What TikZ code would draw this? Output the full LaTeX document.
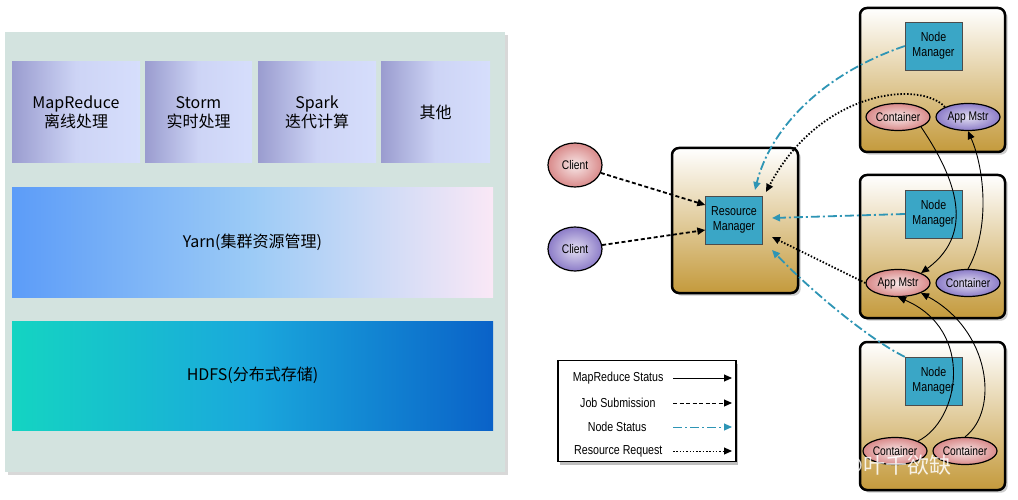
\documentclass[tikz,border=0pt]{standalone}
\usepackage{fontspec}
\setmainfont{Noto Sans CJK SC}
\newfontfamily\nar{Liberation Sans}[FakeStretch=0.82]
\usetikzlibrary{shapes.geometric,arrows.meta,shadows}
\definecolor{panel}{HTML}{D3E3DF}
\definecolor{teal}{HTML}{3AA6C6}
\definecolor{gold}{HTML}{C49A3C}
\definecolor{arr}{HTML}{2E95B5}
\definecolor{tl}{HTML}{9A9CCF}
\definecolor{tr}{HTML}{D6DEFC}
\definecolor{yl}{HTML}{5C9CF8}
\definecolor{ym}{HTML}{9CCBF6}
\definecolor{yr}{HTML}{FAE8F6}
\definecolor{hl}{HTML}{14D4C2}
\definecolor{hm}{HTML}{1AA8DC}
\definecolor{hr}{HTML}{0A62C8}
\definecolor{pk}{HTML}{D98A8A}
\definecolor{pu}{HTML}{8C7CC8}
\tikzset{
 top/.style={draw=none,left color=tl,right color=tr,middle color=tr!85!tl,align=center,font=\fontsize{16}{19}\selectfont,inner sep=0},
 box/.style={rounded corners=7pt,draw=black,line width=2.5pt,top color=white,bottom color=gold,drop shadow={opacity=.4}},
 mgr/.style={draw=black!70,fill=teal,align=center,font=\nar\fontsize{13}{15}\selectfont,minimum width=57pt,minimum height=48pt,inner sep=0},
 ell/.style={ellipse,draw=black,line width=1.2pt,font=\nar\fontsize{12.5}{13}\selectfont,minimum width=64pt,minimum height=27pt,inner sep=0},
 pink/.style={ell,inner color=white!80!pk,outer color=pk},
 purp/.style={ell,inner color=white!75!pu,outer color=pu},
 tip/.style={-{Triangle[length=8pt,width=7pt]}},
 ms/.style={tip,black,line width=.9pt},
 js/.style={tip,black,line width=1.8pt,dash pattern=on 4pt off 2.5pt},
 ns/.style={tip,arr,line width=1.8pt,dash pattern=on 9pt off 3pt on 2pt off 3pt},
 rr/.style={tip,black,line width=1.8pt,dash pattern=on 1.5pt off 1.8pt},
}
\begin{document}
\begin{tikzpicture}[x=1pt,y=-1pt]
\useasboundingbox (0,0) rectangle (1018,500);
\fill[white] (0,0) rectangle (1018,500);
% left panel
\fill[panel,drop shadow={opacity=.3}] (5,32) rectangle (505,472);
\node[top,minimum width=128pt,minimum height=101pt] (mr) at (76,112.5) {MapReduce\\离线处理};
\node[top,minimum width=107pt,minimum height=101pt] (st) at (198.5,112.5) {Storm\\实时处理};
\node[top,minimum width=118pt,minimum height=101pt] (sp) at (317,112.5) {Spark\\迭代计算};
\node[top,minimum width=109pt,minimum height=101pt] (qt) at (435.5,112.5) {其他};
\node[draw=none,left color=yl,right color=yr,middle color=ym,minimum width=481pt,minimum height=109pt,font=\fontsize{16}{19}\selectfont] (yarn) at (252.5,242.5) {Yarn(集群资源管理)};
\node[draw=none,left color=hl,right color=hr,middle color=hm,minimum width=481pt,minimum height=109pt,font=\fontsize{16}{19}\selectfont] (hdfs) at (252.5,375.5) {HDFS(分布式存储)};
% right
\node[box,minimum width=126pt,minimum height=145pt] (rmb) at (735,220.5) {};
\node[mgr] (rm) at (734,220) {Resource\\Manager};
\node[pink,minimum width=54pt,minimum height=44pt] (c1) at (575,165) {Client};
\node[purp,minimum width=54pt,minimum height=44pt] (c2) at (575,249) {Client};
\node[box,minimum width=145pt,minimum height=144pt] (n1) at (932.5,80) {};
\node[box,minimum width=145pt,minimum height=143pt] (n2) at (932.5,246.5) {};
\node[box,minimum width=145pt,minimum height=148pt] (n3) at (932.5,416) {};
\node[mgr] (nm1) at (933.5,46) {Node\\Manager};
\node[mgr] (nm2) at (933.5,214) {Node\\Manager};
\node[mgr] (nm3) at (933.5,381) {Node\\Manager};
\node[pink] (ct1) at (898,117) {Container};
\node[purp] (am1) at (968,117) {App Mstr};
\node[pink] (am2) at (898,283) {App Mstr};
\node[purp] (ct2) at (968,283) {Container};
\node[pink] (ct3) at (895,451) {Container};
\node[pink] (ct4) at (965,451) {Container};
% arrows
\draw[js] (c1) -- (rm.west|-0,205);
\draw[js] (c2) -- (rm.west|-0,230);
\draw[ns] (nm1.west) .. controls (820,75) and (770,130) .. (755,190);
\draw[rr] (am1.north west) .. controls (920,80) and (820,90) .. (766,192);
\draw[ns] (nm2.west) -- (772,218);
\draw[rr] (am2.west) -- (772,237);
\draw[ns] (nm3.north west) .. controls (870,340) and (810,290) .. (772,250);
\draw[ms] (ct1.south east) .. controls (950,170) and (980,230) .. (am2.north east);
\draw[ms] (ct2.north) .. controls (990,230) and (985,170) .. (am1.south);
\draw[ms] (ct3.north east) .. controls (960,420) and (975,330) .. (am2.south);
\draw[ms] (ct4.north) .. controls (1000,410) and (990,330) .. (am2.south east);
% legend
\node[draw=black,line width=1.5pt,fill=white,drop shadow={opacity=.5,shadow xshift=2pt,shadow yshift=-3pt},minimum width=178pt,minimum height=101pt] (lg) at (647,411) {};
\begin{scope}[font=\nar\fontsize{13}{14}\selectfont]
\node[anchor=east] (l1) at (667,378) {MapReduce Status};
\node[anchor=east] (l2) at (659,403) {Job Submission};
\node[anchor=east] (l3) at (650,427) {Node Status};
\node[anchor=east] (l4) at (666,451) {Resource Request};
\end{scope}
\coordinate (e1) at (732,378); \coordinate (e2) at (732,403);
\coordinate (e3) at (732,427); \coordinate (e4) at (732,451);
\draw[ms] (l1.east)++(6,0) -- (e1);
\draw[js,line width=1pt] (l2.east)++(14,0) -- (e2);
\draw[ns,line width=1pt] (l3.east)++(23,0) -- (e3);
\draw[rr,line width=1pt] (l4.east)++(7,0) -- (e4);
\node[text=white,opacity=.85,font=\fontsize{22}{24}\selectfont] (wm) at (866,466) {CSDN @叶千欲缺};
\end{tikzpicture}
\end{document}
